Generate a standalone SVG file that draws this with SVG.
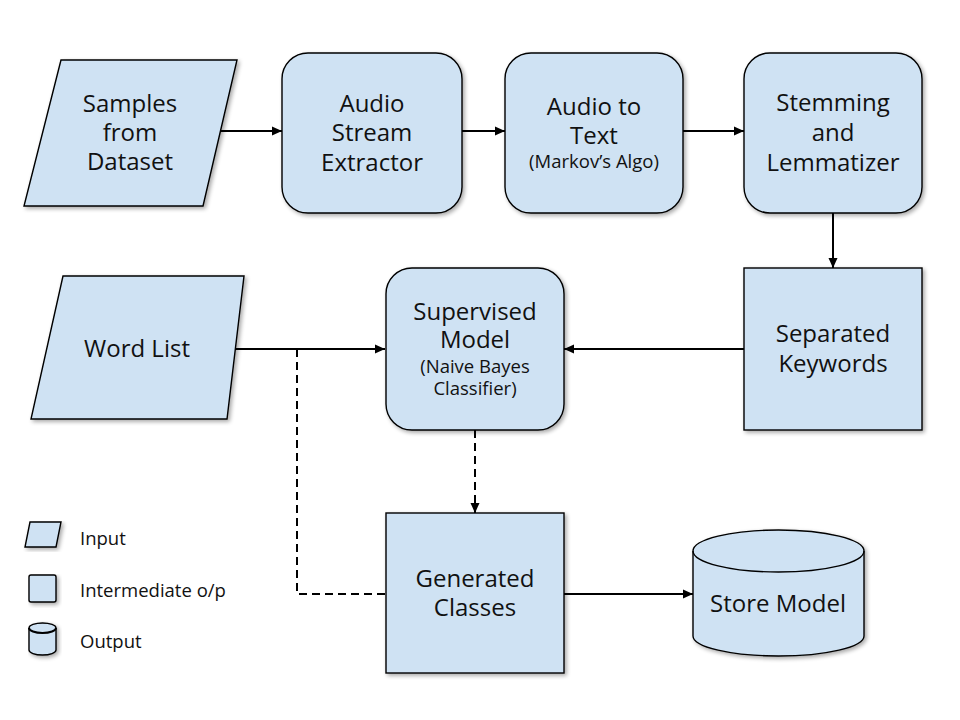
<svg xmlns="http://www.w3.org/2000/svg" width="960" height="720" viewBox="0 0 960 720">
<defs>
<filter id="sh" x="-10%" y="-10%" width="130%" height="130%">
<feGaussianBlur in="SourceAlpha" stdDeviation="2"/>
<feOffset dx="2" dy="2" result="b"/>
<feComponentTransfer><feFuncA type="linear" slope="0.35"/></feComponentTransfer>
<feMerge><feMergeNode/><feMergeNode in="SourceGraphic"/></feMerge>
</filter>
<marker id="ah" viewBox="0 0 10 10" refX="10" refY="5" markerWidth="10" markerHeight="10" markerUnits="userSpaceOnUse" orient="auto">
<path d="M0,0.5 L10,5 L0,9.5 z" fill="#000"/>
</marker>
</defs>
<style>
.n{fill:#cfe2f3;stroke:#000;stroke-width:1.4;filter:url(#sh)}
.t{font-family:"Open Sans","Noto Sans",sans-serif;font-size:24px;fill:#111;text-anchor:middle}
.s{font-family:"Open Sans","Noto Sans",sans-serif;font-size:18.5px;fill:#111;text-anchor:middle}
.l{font-family:"Open Sans","Noto Sans",sans-serif;font-size:18.5px;fill:#111}
.c{fill:none;stroke:#000;stroke-width:2}
.d{fill:none;stroke:#000;stroke-width:2;stroke-dasharray:8 5}
</style>
<rect width="960" height="720" fill="#fff"/>
<g id="connectors">
<line class="c" x1="219" y1="131" x2="282" y2="131" marker-end="url(#ah)"/>
<line class="c" x1="462" y1="131" x2="505" y2="131" marker-end="url(#ah)"/>
<line class="c" x1="683" y1="131" x2="744" y2="131" marker-end="url(#ah)"/>
<line class="c" x1="833" y1="213" x2="833" y2="268" marker-end="url(#ah)"/>
<line class="c" x1="744" y1="349" x2="564" y2="349" marker-end="url(#ah)"/>
<line class="c" x1="228" y1="349" x2="385" y2="349" marker-end="url(#ah)"/>
<polyline class="d" points="385,594 297,594 297,349 376,349"/>
<line class="d" x1="475" y1="430" x2="475" y2="513" marker-end="url(#ah)"/>
<line class="c" x1="564" y1="594" x2="693" y2="594" marker-end="url(#ah)"/>
</g>
<g id="samples">
<polygon class="n" points="61,60 237,60 203,206 24,206"/>
<text class="t" x="130" y="112">Samples</text>
<text class="t" x="130" y="141">from</text>
<text class="t" x="130" y="170">Dataset</text>
</g>
<g id="audio-stream">
<rect class="n" x="282" y="53" width="180" height="160" rx="26"/>
<text class="t" x="372" y="112">Audio</text>
<text class="t" x="372" y="141">Stream</text>
<text class="t" x="372" y="171">Extractor</text>
</g>
<g id="audio-to-text">
<rect class="n" x="505" y="53" width="178" height="160" rx="26"/>
<text class="t" x="594" y="115">Audio to</text>
<text class="t" x="594" y="144">Text</text>
<text class="s" x="594" y="168">(Markov’s Algo)</text>
</g>
<g id="stemming">
<rect class="n" x="744" y="53" width="178" height="160" rx="26"/>
<text class="t" x="833" y="111">Stemming</text>
<text class="t" x="833" y="141">and</text>
<text class="t" x="833" y="171">Lemmatizer</text>
</g>
<g id="separated">
<rect class="n" x="744" y="268" width="178" height="162"/>
<text class="t" x="833" y="342">Separated</text>
<text class="t" x="833" y="372">Keywords</text>
</g>
<g id="supervised">
<rect class="n" x="386" y="268" width="178" height="162" rx="26"/>
<text class="t" x="475" y="320">Supervised</text>
<text class="t" x="475" y="348">Model</text>
<text class="s" x="475" y="373">(Naive Bayes</text>
<text class="s" x="475" y="395">Classifier)</text>
</g>
<g id="wordlist">
<polygon class="n" points="63,276 244,276 227,419 31,419"/>
<text class="t" x="137" y="357">Word List</text>
</g>
<g id="generated">
<rect class="n" x="386" y="513" width="178" height="160"/>
<text class="t" x="475" y="587">Generated</text>
<text class="t" x="475" y="616">Classes</text>
</g>
<g id="store">
<path class="n" d="M693,551 A85.5,21 0 0 1 864,551 L864,636 A85.5,20 0 0 1 693,636 Z"/>
<path d="M693,551 A85.5,21 0 0 0 864,551" fill="none" stroke="#000" stroke-width="1.4"/>
<text class="t" x="778" y="612">Store Model</text>
</g>
<g id="legend">
<polygon class="n" points="30,522 61,522 56,547 25,547" stroke-width="2"/>
<text class="l" x="80" y="545">Input</text>
<rect class="n" x="29" y="575" width="27" height="27" rx="2" stroke-width="2"/>
<text class="l" x="80" y="597">Intermediate o/p</text>
<path class="n" stroke-width="2" d="M29,628 A13.5,5 0 0 1 56,628 L56,650 A13.5,5 0 0 1 29,650 Z"/>
<path d="M29,628 A13.5,5 0 0 0 56,628" fill="none" stroke="#000" stroke-width="2"/>
<text class="l" x="80" y="648">Output</text>
</g>
</svg>
